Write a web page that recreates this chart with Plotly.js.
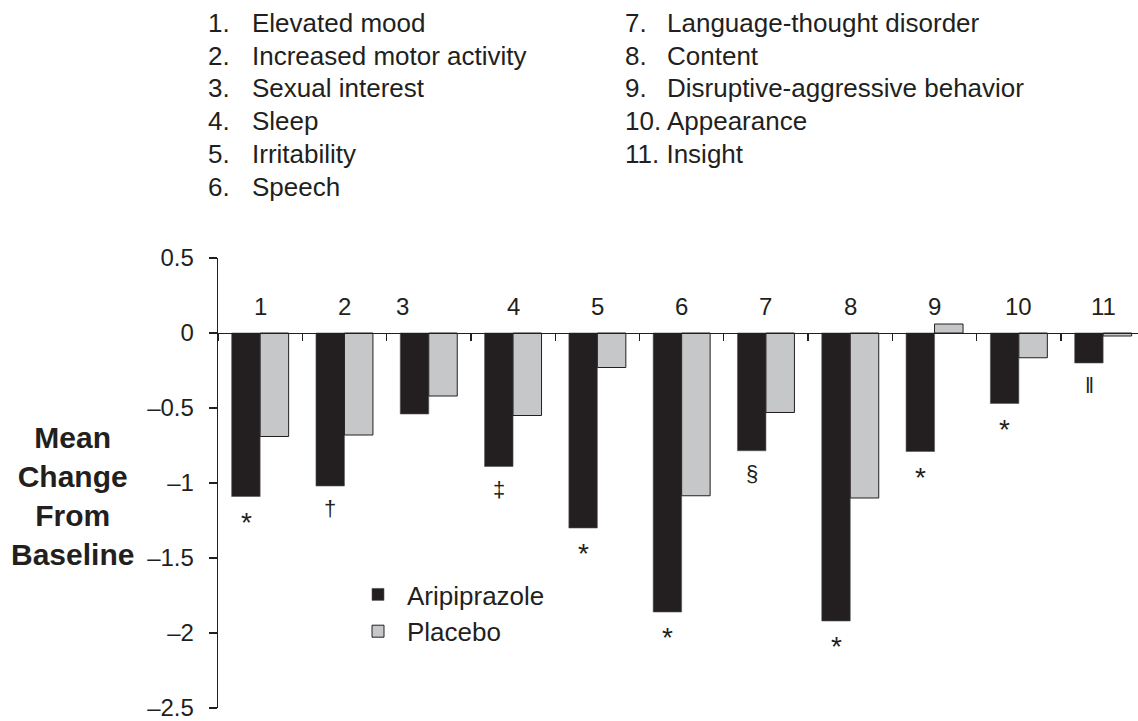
<!DOCTYPE html>
<html>
<head>
<meta charset="utf-8">
<script src="https://cdn.plot.ly/plotly-3.0.1.min.js"></script>
<style>html,body{margin:0;padding:0;background:#fff;}#chart{width:1138px;height:721px;}</style>
</head>
<body>
<div id="chart"></div>
<script>
// ---- data ----
const categories = ['1','2','3','4','5','6','7','8','9','10','11'];
const itemNames = ['Elevated mood','Increased motor activity','Sexual interest','Sleep','Irritability','Speech',
  'Language-thought disorder','Content','Disruptive-aggressive behavior','Appearance','Insight'];
const aripiprazole = [-1.09, -1.02, -0.54, -0.89, -1.30, -1.86, -0.785, -1.92, -0.79, -0.47, -0.20];
const placebo      = [-0.69, -0.68, -0.42, -0.55, -0.23, -1.085, -0.53, -1.10, 0.06, -0.165, -0.02];
const significance = ['*','\u2020','','\u2021','*','*','\u00a7','*','*','*','\u2016'];
const yTickVals  = [-2.5, -2, -1.5, -1, -0.5, 0, 0.5];
const yTickText  = ['\u20132.5','\u20132','\u20131.5','\u20131','\u20130.5','0','0.5'];

// ---- layout helpers ----
const W = 1138, H = 721;
const M = {l:218, r:0, t:258, b:13};
const PW = W - M.l - M.r, PH = H - M.t - M.b;
const px = x => (x - M.l) / PW;
const py = y => (H - M.b - y) / PH;
const FONT = 'Liberation Sans, Arial, Helvetica, sans-serif';
const INK = '#231f20';

const traces = [
  {type:'bar', name:'Aripiprazole', x:categories, y:aripiprazole,
   marker:{color:INK, line:{color:'#555', width:0.6}}, hoverinfo:'y'},
  {type:'bar', name:'Placebo', x:categories, y:placebo,
   marker:{color:'#c6c7c9', line:{color:INK, width:1}}, hoverinfo:'y'}
];

const annotations = [];
// significance markers under Aripiprazole bars (x given as category index)
significance.forEach((s,i)=>{
  if(!s) return;
  const star = s === '*';
  annotations.push({xref:'x', yref:'y', x:i, y:aripiprazole[i], text:s, showarrow:false,
    xanchor:'center', yanchor:'top', xshift:-14, yshift:-8,
    font:{family:FONT, size: star ? 28 : 22, color:INK}});
});
// category number labels above the zero line
const labelShift = {2:-26};
categories.forEach((c,i)=>{
  annotations.push({xref:'x', yref:'y', x:i, y:0.177, text:c, showarrow:false,
    xanchor:'center', yanchor:'middle', xshift: labelShift[i] || 0,
    font:{family:FONT, size:24, color:INK}});
});
// numbered list at top, one annotation per line
const listFont = {family:FONT, size:26, color:INK};
const rowY = k => py(23 + 32.7 * k);
itemNames.forEach((name,i)=>{
  if (i < 6) {
    annotations.push({xref:'paper', yref:'paper', x:px(206), y:rowY(i), text:categories[i]+'.', showarrow:false,
      xanchor:'left', yanchor:'middle', font:listFont});
    annotations.push({xref:'paper', yref:'paper', x:px(250), y:rowY(i), text:name, showarrow:false,
      xanchor:'left', yanchor:'middle', font:listFont});
  } else if (i < 9) {
    annotations.push({xref:'paper', yref:'paper', x:px(623), y:rowY(i-6), text:categories[i]+'.', showarrow:false,
      xanchor:'left', yanchor:'middle', font:listFont});
    annotations.push({xref:'paper', yref:'paper', x:px(665), y:rowY(i-6), text:name, showarrow:false,
      xanchor:'left', yanchor:'middle', font:listFont});
  } else {
    annotations.push({xref:'paper', yref:'paper', x:px(623), y:rowY(i-6), text:categories[i]+'. '+name, showarrow:false,
      xanchor:'left', yanchor:'middle', font:listFont});
  }
});
// y-axis title (horizontal, bold)
annotations.push({xref:'paper', yref:'paper', x:px(72), y:py(496), text:'<b>Mean<br>Change<br>From<br>Baseline</b>',
  showarrow:false, xanchor:'center', yanchor:'middle', align:'center',
  font:{family:FONT, size:30, color:INK}});

const layout = {
  width:W, height:H, margin:{l:M.l, r:M.r, t:M.t, b:M.b, pad:0},
  paper_bgcolor:'#fff', plot_bgcolor:'#fff',
  barmode:'group', bargap:0.324, bargroupgap:0,
  showlegend:true,
  legend:{x:px(349), y:py(571), xanchor:'left', yanchor:'top', bgcolor:'rgba(0,0,0,0)',
    font:{family:FONT, size:26, color:INK}, itemwidth:48, traceorder:'normal', tracegroupgap:0},
  xaxis:{type:'category', range:[-0.5, -0.5 + PW/84.3], anchor:'free', position:2.5/3,
    showline:true, linecolor:INK, linewidth:1.3, ticks:'outside', tickson:'boundaries',
    ticklen:7, tickwidth:1.3, tickcolor:INK, showticklabels:false, showgrid:false, zeroline:false, fixedrange:true},
  yaxis:{range:[-2.5,0.5], tickvals:yTickVals, ticktext:yTickText, showline:true, linecolor:INK, linewidth:1.3,
    ticks:'outside', ticklen:8, tickwidth:1.3, tickcolor:INK, showgrid:false, zeroline:false,
    tickfont:{family:FONT, size:24, color:INK}, ticklabelstandoff:10, ticklabeloverflow:'allow', fixedrange:true},
  annotations:annotations,
  font:{family:FONT, color:INK}
};

Plotly.newPlot('chart', traces, layout, {displayModeBar:false, staticPlot:true});
</script>
</body>
</html>
